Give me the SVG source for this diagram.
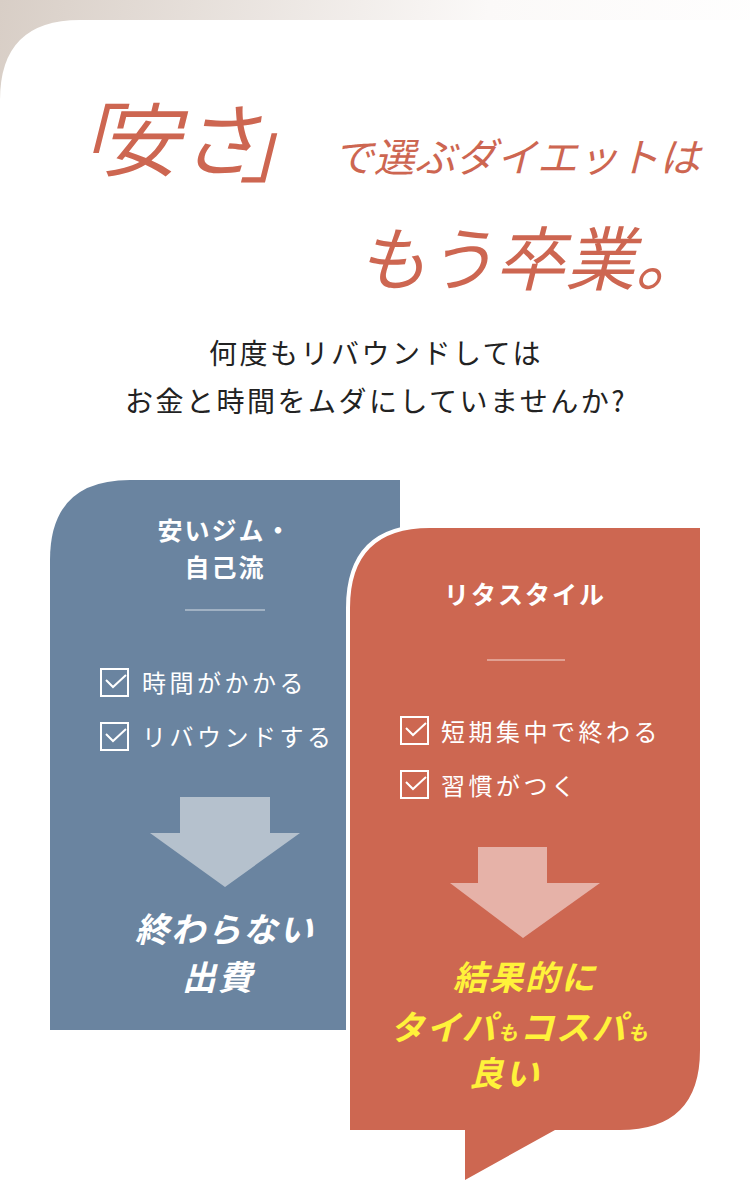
<svg xmlns="http://www.w3.org/2000/svg" width="750" height="1191" viewBox="0 0 750 1191">
<defs>
<linearGradient id="bg" x1="0" y1="0" x2="1" y2="0.3">
<stop offset="0" stop-color="#d8cec6"/><stop offset="0.6" stop-color="#fbf9f8"/><stop offset="1" stop-color="#ffffff"/>
</linearGradient>
<g id="chk"><rect x="1" y="1" width="27" height="27" fill="none" stroke="#fff" stroke-width="2"/><path d="M6 12 L13 19 L26 7" fill="none" stroke="#fff" stroke-width="2"/></g>
</defs>
<style>
.ttl{font-family:"Noto Sans CJK JP","Liberation Serif",serif;fill:#cd6651;font-style:italic}
.sub{font-family:"Noto Sans CJK JP",sans-serif;fill:#222;font-size:28px;text-anchor:middle;letter-spacing:2.5px}
.hd{font-family:"Noto Sans CJK JP",sans-serif;fill:#fff;font-size:25px;font-weight:bold;text-anchor:middle;letter-spacing:2px}
.it{font-family:"Noto Sans CJK JP",sans-serif;fill:#fff;font-size:24px;letter-spacing:3.5px}
.res{font-family:"Noto Sans CJK JP",sans-serif;font-size:34px;font-weight:bold;font-style:italic;text-anchor:middle;letter-spacing:2px}
</style>
<rect width="750" height="1191" fill="url(#bg)"/>
<path d="M0 100 Q0 20 80 20 H750 V1191 H0 Z" fill="#fff"/>
<g id="title">
<text class="ttl" x="40" y="168" font-size="76">「</text>
<text class="ttl" x="100" y="170" font-size="80">安さ</text>
<text class="ttl" x="240" y="176" font-size="76">」</text>
<text class="ttl" x="333" y="172" font-size="40" textLength="367" lengthAdjust="spacingAndGlyphs">で選ぶダイエットは</text>
<text class="ttl" x="705" y="285" font-size="70" text-anchor="end">もう卒業。</text>
</g>
<g id="subtitle">
<text class="sub" x="376" y="364">何度もリバウンドしては</text>
<text class="sub" x="376" y="412">お金と時間をムダにしていませんか?</text>
</g>
<g id="blue">
<path d="M50 560 Q50 480 130 480 H400 V1030 H50 Z" fill="#6a84a0"/>
<text class="hd" x="225" y="540">安いジム・</text>
<text class="hd" x="225" y="577">自己流</text>
<line x1="185" y1="610" x2="265" y2="610" stroke="#b3c0cf" stroke-width="1.5"/>
<use href="#chk" x="100" y="668"/><text class="it" x="142" y="692">時間がかかる</text>
<use href="#chk" x="100" y="722"/><text class="it" x="142" y="746">リバウンドする</text>
<path d="M180 797 H270 V833 H300 L225 887 L150 833 H180 Z" fill="#b5c1cd"/>
<text class="res" x="225" y="942" fill="#fff">終わらない</text>
<text class="res" x="218" y="990" fill="#fff">出費</text>
</g>
<g id="red">
<path d="M350 608 Q350 528 430 528 H700 V1050 Q700 1130 620 1130 H555 L465 1180 V1130 H350 Z" fill="#cd6751" stroke="#fff" stroke-width="8" stroke-linejoin="miter"/>
<path d="M350 608 Q350 528 430 528 H700 V1050 Q700 1130 620 1130 H555 L465 1180 V1130 H350 Z" fill="#cd6751"/>
<text class="hd" x="525" y="604">リタスタイル</text>
<line x1="487" y1="660" x2="565" y2="660" stroke="#e7b3a8" stroke-width="1.5"/>
<use href="#chk" x="400" y="716"/><text class="it" x="441" y="741">短期集中で終わる</text>
<use href="#chk" x="400" y="770"/><text class="it" x="441" y="795">習慣がつく</text>
<path d="M478 847 H547 V883 H600 L523 938 L450 883 H478 Z" fill="#e6b2a8"/>
<text class="res" x="525" y="990" fill="#fff23a">結果的に</text>
<text class="res" x="520" y="1040" fill="#fff23a" font-size="30">タイパ<tspan font-size="20">も</tspan>コスパ<tspan font-size="20">も</tspan></text>
<text class="res" x="505" y="1086" fill="#fff23a">良い</text>
</g>
</svg>
